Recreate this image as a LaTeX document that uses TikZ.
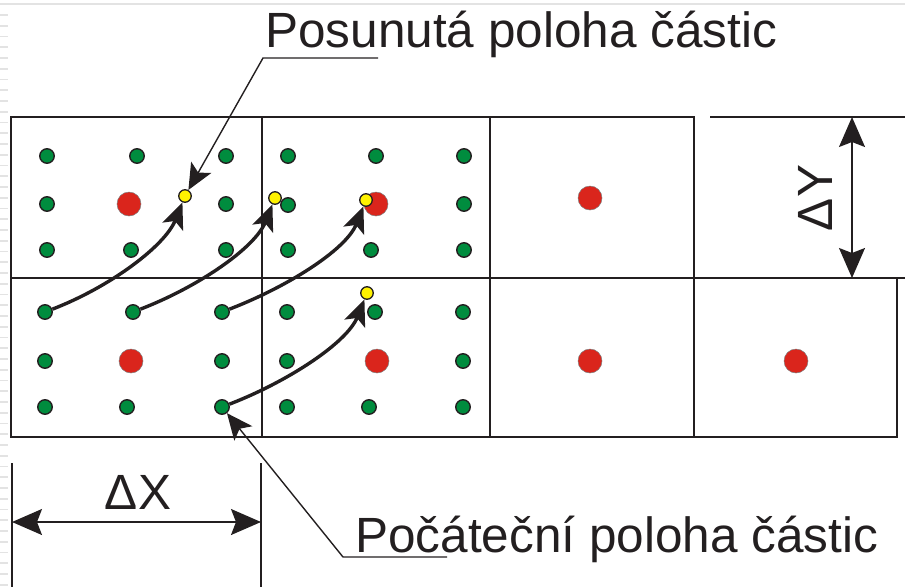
\documentclass[tikz,border=0pt]{standalone}
\usepackage{fontspec}
\setmainfont{Liberation Sans}
\usetikzlibrary{arrows.meta,calc}
\definecolor{ink}{RGB}{35,31,32}
\definecolor{dgreen}{RGB}{0,140,62}
\definecolor{dred}{RGB}{218,37,28}
\definecolor{dyellow}{RGB}{255,242,0}
\begin{document}
\begin{tikzpicture}[x=1pt,y=-1pt,
  gdot/.style={circle,inner sep=0pt,minimum size=14.5pt,fill=dgreen,draw=ink,line width=1.4pt},
  rdot/.style={circle,inner sep=0pt,minimum size=24pt,fill=dred,draw=gray,line width=0.5pt},
  ydot/.style={circle,inner sep=0pt,minimum size=12.5pt,fill=dyellow,draw=ink,line width=1.3pt},
  gridline/.style={draw=ink,line width=2pt},
  curv/.style={draw=ink,line width=3.4pt,-{Stealth[length=26pt,width=22pt,inset=6pt]}},
  lead/.style={draw=ink,line width=1.4pt,-{Stealth[length=26pt,width=23pt,inset=6pt]}},
  dimline/.style={draw=ink,line width=1.6pt,{Stealth[length=30pt,width=26pt,inset=5pt]}-{Stealth[length=30pt,width=26pt,inset=5pt]}},
  extline/.style={draw=ink,line width=1.8pt},
  lbl/.style={font=\fontsize{49.5}{58}\selectfont,inner sep=0pt,text=ink},
  artif/.style={draw=gray!22,line width=1.6pt}]
\useasboundingbox (0,0) rectangle (905,587);

% screenshot artefacts
\draw[artif] (0,4) -- (905,4);
\foreach \i in {0,...,53} {\draw[artif] (0,15+10.75*\i) -- (8,15+10.75*\i);}

% grid
\draw[gridline] (11,117) rectangle (694,278);
\draw[gridline] (11,278) rectangle (897,437);
\draw[gridline] (262,117) -- (262,437);
\draw[gridline] (490,117) -- (490,437);
\draw[gridline] (694,278) -- (694,437);
\draw[extline] (710,117) -- (905,117);
\draw[extline] (897,278) -- (905,278);

% red dots
\node[rdot] (r1) at (129,204) {};
\node[rdot] (r2) at (376,204) {};
\node[rdot] (r3) at (590,198) {};
\node[rdot] (r4) at (131,361) {};
\node[rdot] (r5) at (377,361) {};
\node[rdot] (r6) at (590,361) {};
\node[rdot] (r7) at (796,361) {};

% green dots
\foreach \n/\x/\y in {t11/47/156,t12/137/156,t13/226/156,t14/288/156,t15/376/156,t16/464/156,
  t21/47/204,t23/226/204,t24/288/205,t26/464/204,
  t31/47/250,t32/131/250,t33/226/250,t34/288/250,t35/371/250,t36/464/250,
  b11/45/312,b12/133/312,b13/222/312,b14/287/312,b15/375/312,b16/463/312,
  b21/45/361,b23/222/361,b24/287/361,b26/463/361,
  b31/45/407,b32/127/407,b33/222/407,b34/287/407,b35/369/407,b36/463/407}
  {\node[gdot] (\n) at (\x,\y) {};}

% yellow dots (shifted positions)
\node[ydot] (ya) at (185,196) {};
\node[ydot] (yb) at (275,198) {};
\node[ydot] (yc) at (366,200) {};
\node[ydot] (yd) at (367,293) {};

% displacement arrows
\draw[curv] (b11) .. controls ($(b11)+(65,-25)$) and ($(ya)+(-20,50)$) .. (ya);
\draw[curv] (b12) .. controls ($(b12)+(65,-25)$) and ($(yb)+(-20,50)$) .. (yb);
\draw[curv] (b13) .. controls ($(b13)+(65,-25)$) and ($(yc)+(-20,50)$) .. (yc);
\draw[curv] (b33) .. controls ($(b33)+(65,-25)$) and ($(yd)+(-20,50)$) .. (yd);

% labels with leaders
\node[lbl,anchor=base west] (tpos) at (265,47) {Posunutá poloha částic};
\coordinate (tu) at (378,58);
\coordinate (tk) at (263,58);
\draw[lead] (tu) -- (tk) -- (ya);

\node[lbl,anchor=base west] (tini) at (355,552) {Počáteční poloha částic};
\coordinate (bu) at (447,557);
\coordinate (bk) at (343,557);
\draw[lead] (bu) -- (bk) -- (b33);

% dimension dX
\coordinate (xl1) at (12,463); \coordinate (xl2) at (12,587);
\coordinate (xr1) at (261,463); \coordinate (xr2) at (261,587);
\draw[extline] (xl1) -- (xl2);
\draw[extline] (xr1) -- (xr2);
\coordinate (dxl) at (12,522); \coordinate (dxr) at (261,522);
\draw[dimline] (dxl) -- (dxr);
\node[lbl,anchor=base] (dxlab) at (138,509) {ΔX};

% dimension dY
\coordinate (dyt) at (852,117); \coordinate (dyb) at (852,278);
\draw[dimline] (dyt) -- (dyb);
\node[lbl,anchor=base,rotate=90] (dylab) at (832,198) {ΔY};
\end{tikzpicture}
\end{document}
